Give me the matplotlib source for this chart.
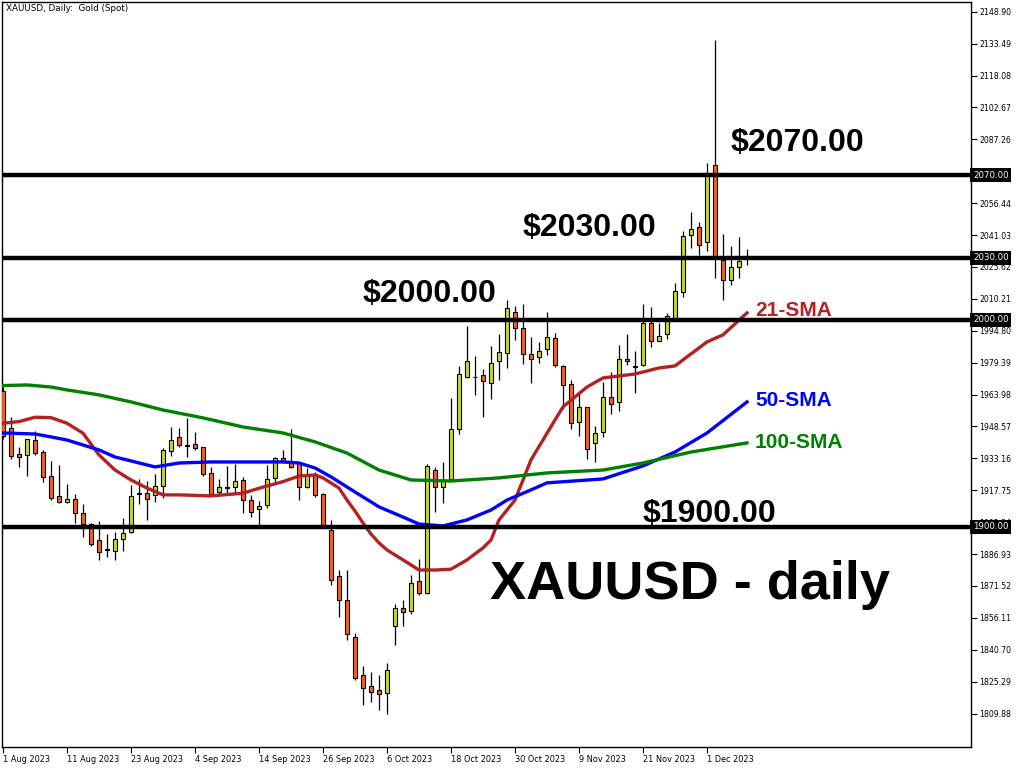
import matplotlib.pyplot as plt
from matplotlib.transforms import blended_transform_factory

# daily candles, 1 Aug 2023 .. 8 Dec 2023 (one per trading day)
opens = [1965.8, 1948.0, 1935.3, 1934.6, 1942.0, 1936.1, 1924.4, 1914.8, 1911.9, 1913.5,
         1906.6, 1901.3, 1893.6, 1889.2, 1888.5, 1894.0, 1897.4, 1916.3, 1916.3, 1915.2,
         1919.7, 1936.6, 1943.3, 1939.4, 1940.1, 1938.5, 1925.9, 1916.7, 1919.0, 1919.1,
         1922.6, 1913.0, 1908.5, 1910.5, 1923.5, 1933.2, 1931.9, 1931.2, 1919.1, 1925.6,
         1915.8, 1898.6, 1876.3, 1864.7, 1846.7, 1828.3, 1823.2, 1821.3, 1819.7, 1852.3,
         1860.7, 1859.6, 1873.9, 1868.2, 1927.5, 1919.1, 1923.0, 1947.2, 1972.6, 1972.6,
         1973.4, 1969.7, 1980.3, 1983.9, 2003.7, 1996.0, 1983.4, 1982.0, 1985.8, 1991.2,
         1977.9, 1968.9, 1950.6, 1957.8, 1940.4, 1945.7, 1962.6, 1960.2, 1981.0, 1977.5,
         1978.1, 1998.4, 1990.0, 1993.1, 2000.8, 2013.4, 2040.9, 2044.8, 2037.5, 2074.7,
         2029.0, 2019.3, 2025.8, 2030.2]
highs = [1967.5, 1953.0, 1938.8, 1942.5, 1946.4, 1937.2, 1931.9, 1930.0, 1920.8, 1915.9,
         1911.1, 1902.0, 1902.9, 1896.6, 1897.7, 1904.1, 1920.3, 1923.0, 1922.2, 1925.6,
         1938.0, 1948.5, 1947.7, 1952.5, 1945.7, 1938.8, 1928.8, 1923.2, 1929.5, 1930.4,
         1924.0, 1915.5, 1912.6, 1929.9, 1934.0, 1937.2, 1947.3, 1931.5, 1928.4, 1926.7,
         1916.5, 1903.4, 1879.2, 1879.2, 1848.7, 1832.9, 1829.9, 1828.5, 1834.2, 1862.8,
         1864.7, 1876.8, 1884.5, 1930.4, 1929.1, 1931.6, 1962.5, 1977.8, 1997.2, 1982.6,
         1976.2, 1987.6, 1993.2, 2009.7, 2006.8, 2007.7, 1991.6, 1989.5, 2003.7, 1993.6,
         1978.2, 1971.0, 1965.7, 1958.1, 1949.0, 1970.2, 1975.0, 1987.9, 1993.2, 1985.0,
         2007.7, 2006.1, 1998.4, 2003.5, 2017.7, 2043.0, 2052.2, 2047.2, 2075.7, 2135.3,
         2041.5, 2035.7, 2039.9, 2034.2]
lows = [1942.5, 1932.7, 1929.1, 1924.6, 1935.0, 1921.9, 1913.0, 1911.4, 1911.5, 1901.8,
        1895.3, 1891.0, 1884.1, 1885.7, 1884.1, 1888.4, 1896.9, 1910.9, 1903.4, 1912.2,
        1913.9, 1934.3, 1938.4, 1934.0, 1937.2, 1924.8, 1915.5, 1915.5, 1916.6, 1916.6,
        1906.9, 1905.0, 1900.2, 1909.0, 1921.9, 1931.3, 1928.5, 1913.0, 1918.8, 1914.7,
        1899.8, 1872.0, 1856.7, 1845.4, 1826.1, 1814.0, 1815.6, 1811.6, 1809.5, 1843.0,
        1852.3, 1857.8, 1867.1, 1867.5, 1907.4, 1911.7, 1922.5, 1944.8, 1971.8, 1963.8,
        1952.9, 1961.8, 1971.0, 1976.7, 1990.3, 1978.7, 1969.4, 1979.1, 1983.1, 1977.1,
        1956.9, 1947.2, 1944.1, 1932.7, 1931.2, 1943.3, 1954.6, 1956.0, 1978.3, 1964.9,
        1977.8, 1987.1, 1989.8, 1990.7, 2000.5, 2011.3, 2035.0, 2031.4, 2033.5, 2020.1,
        2009.7, 2016.9, 2020.1, 2026.6]
closes = [1944.0, 1934.3, 1933.7, 1942.3, 1935.6, 1924.3, 1913.8, 1911.9, 1913.5, 1906.6,
          1901.3, 1891.9, 1888.1, 1889.0, 1894.0, 1896.9, 1915.0, 1916.1, 1913.4, 1919.7,
          1937.2, 1942.0, 1939.5, 1939.2, 1938.0, 1925.6, 1915.8, 1919.1, 1918.8, 1922.2,
          1913.0, 1907.4, 1910.0, 1923.0, 1933.2, 1931.6, 1928.8, 1919.1, 1925.1, 1915.2,
          1900.2, 1874.4, 1864.7, 1848.2, 1826.9, 1822.4, 1820.1, 1819.2, 1830.9, 1860.7,
          1859.1, 1872.8, 1868.0, 1929.5, 1919.1, 1922.7, 1947.2, 1973.8, 1980.2, 1972.3,
          1970.7, 1979.1, 1984.5, 2005.7, 1996.0, 1983.6, 1981.0, 1985.0, 1991.9, 1978.3,
          1968.5, 1950.1, 1958.1, 1937.5, 1945.6, 1962.6, 1959.2, 1981.0, 1980.0, 1977.3,
          1998.4, 1989.7, 1992.3, 2001.9, 2014.0, 2040.7, 2044.1, 2036.1, 2071.2, 2030.6,
          2019.3, 2025.5, 2028.6, 2030.5]

date_ticks = [0, 8, 16, 24, 32, 40, 48, 56, 64, 72, 80, 88]
date_labels = ['1 Aug 2023', '11 Aug 2023', '23 Aug 2023', '4 Sep 2023', '14 Sep 2023',
               '26 Sep 2023', '6 Oct 2023', '18 Oct 2023', '30 Oct 2023', '9 Nov 2023',
               '21 Nov 2023', '1 Dec 2023']

price_ticks = [1809.88, 1825.29, 1840.70, 1856.11, 1871.52, 1886.93, 1902.34, 1917.75,
               1933.16, 1948.57, 1963.98, 1979.39, 1994.80, 2010.21, 2025.62, 2041.03,
               2056.44, 2071.85, 2087.26, 2102.67, 2118.08, 2133.49, 2148.90]

levels = [2070.0, 2030.0, 2000.0, 1900.0]

# moving averages (bar index, value)
sma21_x = [0, 2, 4, 6, 8, 10, 12, 14, 16, 18, 20, 22, 26, 30, 32, 35, 37, 39, 40, 42,
           43, 44, 45, 46, 47, 48, 50, 52, 54, 56, 58, 60, 61, 62, 64, 66, 69, 70, 73, 75,
           79, 82, 84, 88, 90, 93]
sma21_y = [1950.1, 1950.9, 1953.0, 1952.8, 1950.1, 1945.3, 1934.8, 1927.5, 1922.7, 1918.8,
           1915.5, 1915.5, 1915.0, 1916.3, 1918.7, 1921.9, 1924.6, 1925.1, 1923.7, 1918.8,
           1913.0, 1907.7, 1901.9, 1896.6, 1892.3, 1888.9, 1884.1, 1879.2, 1879.2, 1879.6,
           1884.1, 1889.9, 1893.7, 1903.4, 1913.0, 1932.4, 1951.7, 1958.0, 1967.6, 1972.0,
           1973.9, 1976.8, 1977.8, 1989.4, 1992.8, 2003.4]
sma50_x = [0, 4, 6, 8, 10, 12, 14, 16, 19, 22, 26, 30, 35, 37, 39, 41, 43, 45, 47, 50,
           52, 55, 58, 61, 63, 66, 68, 75, 80, 84, 88, 93]
sma50_y = [1945.4, 1944.9, 1943.5, 1942.0, 1939.6, 1937.2, 1933.8, 1931.9, 1929.0, 1930.9,
           1931.4, 1931.4, 1931.4, 1930.9, 1928.5, 1924.2, 1919.3, 1914.5, 1909.7, 1904.8,
           1901.4, 1900.5, 1903.4, 1908.2, 1913.0, 1917.9, 1921.3, 1923.2, 1929.5, 1936.2,
           1945.4, 1960.4]
sma100_x = [0, 3, 6, 8, 12, 16, 20, 25, 30, 35, 39, 43, 47, 51, 56, 62, 68, 75, 80, 86, 93]
sma100_y = [1968.3, 1968.6, 1967.6, 1966.2, 1963.8, 1960.4, 1956.5, 1952.7, 1948.3, 1945.4,
            1941.1, 1935.7, 1927.5, 1922.7, 1922.2, 1923.7, 1926.1, 1927.5, 1930.9, 1936.2,
            1940.6]

BULL = '#c6d93a'
BEAR = '#f06226'

fig = plt.figure(figsize=(10.24, 7.68), dpi=100)
ax = fig.add_axes([2 / 1024, 21 / 768, 969 / 1024, 745 / 768])

idx = list(range(len(opens)))
bottoms = [min(o, c) for o, c in zip(opens, closes)]
heights = [max(abs(c - o), 0.3) for o, c in zip(opens, closes)]
colors = [BULL if c >= o else BEAR for o, c in zip(opens, closes)]

ax.vlines(idx, lows, highs, color='black', lw=0.9, zorder=2)
ax.bar(idx, heights, bottom=bottoms, width=0.62, color=colors,
       edgecolor='black', linewidth=0.8, zorder=3)

ax.plot(sma21_x, sma21_y, color='#b22222', lw=2.4, zorder=4)
ax.plot(sma50_x, sma50_y, color='#0000ff', lw=2.4, zorder=4)
ax.plot(sma100_x, sma100_y, color='#008000', lw=2.4, zorder=4)

trans = blended_transform_factory(ax.transAxes, ax.transData)
for lvl in levels:
    ax.axhline(lvl, color='black', lw=3.2, zorder=5)

ax.set_xlim(-0.125, 121)
ax.set_ylim(1793.7, 2153.6)

ax.yaxis.tick_right()
ax.set_yticks(price_ticks)
ax.set_yticklabels([f'{v:.2f}' for v in price_ticks])
ax.set_xticks(date_ticks)
ax.set_xticklabels(date_labels)
for lbl in ax.get_xticklabels():
    lbl.set_horizontalalignment('left')
ax.tick_params(axis='y', direction='out', length=4, width=0.8, labelsize=5.6, pad=2)
ax.tick_params(axis='x', direction='out', length=4, width=0.8, labelsize=5.9, pad=1.5)
for s in ax.spines.values():
    s.set_linewidth(1.0)

for lvl in levels:
    ax.text(1.002, lvl, f'{lvl:.2f}', transform=trans, ha='left', va='center',
            color='white', fontsize=6.2, clip_on=False, zorder=10,
            bbox=dict(facecolor='black', edgecolor='none', pad=1.8))

big = dict(fontfamily='Liberation Sans', fontweight='bold', va='center', zorder=6)
ax.text(90.9, 2085.5, '$2070.00', fontsize=23, color='black', **big)
ax.text(65.0, 2044.4, '$2030.00', fontsize=23, color='black', **big)
ax.text(44.9, 2012.6, '$2000.00', fontsize=23, color='black', **big)
ax.text(79.9, 1906.3, '$1900.00', fontsize=23, color='black', **big)
ax.text(60.9, 1872.0, 'XAUUSD - daily', fontsize=39, color='black', **big)
ax.text(94.0, 2004.8, '21-SMA', fontsize=15, color='#b22222', **big)
ax.text(94.0, 1960.9, '50-SMA', fontsize=15, color='#0000ff', **big)
ax.text(94.0, 1940.6, '100-SMA', fontsize=15, color='#008000', **big)

ax.text(0.004, 0.997, 'XAUUSD, Daily:  Gold (Spot)', transform=ax.transAxes,
        ha='left', va='top', fontsize=6.3, color='black')

fig.savefig('out.png', dpi=100)
